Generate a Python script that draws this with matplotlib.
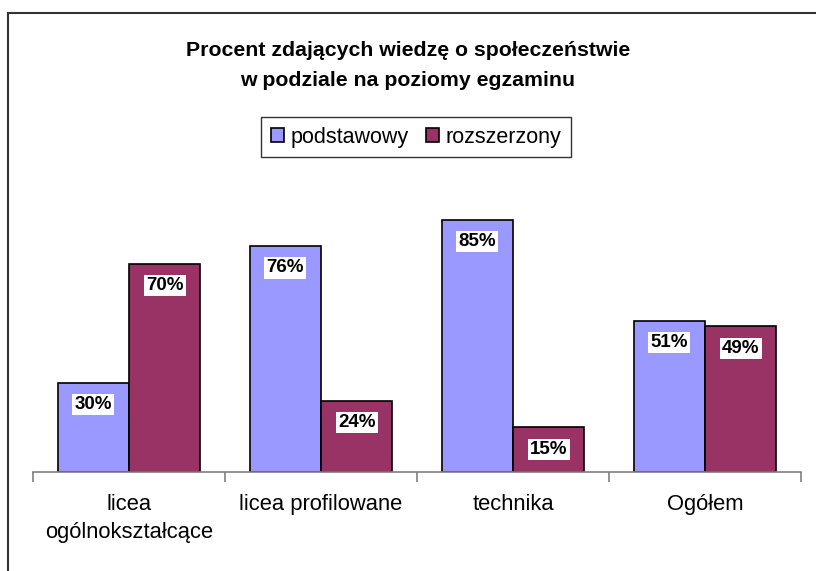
import matplotlib.pyplot as plt
import numpy as np
from matplotlib.patches import Rectangle

categories = ["licea\nogólnokształcące", "licea profilowane", "technika", "Ogółem"]
podstawowy = [30, 76, 85, 51]
rozszerzony = [70, 24, 15, 49]

plt.rcParams["font.family"] = ["Liberation Sans", "DejaVu Sans"]

fig = plt.figure(figsize=(8.16, 5.71), dpi=100)
ax = fig.add_axes([33 / 816, 99 / 571, 768 / 816, 297 / 571])

x = np.arange(len(categories)) + 0.5
w = 0.372
b1 = ax.bar(x - w / 2, podstawowy, w, color="#9999FF", edgecolor="black", linewidth=1.2, label="podstawowy")
b2 = ax.bar(x + w / 2, rozszerzony, w, color="#993366", edgecolor="black", linewidth=1.2, label="rozszerzony")

# etykiety wartości w białych ramkach
for bars, vals in ((b1, podstawowy), (b2, rozszerzony)):
    for bar, v in zip(bars, vals):
        ax.text(bar.get_x() + bar.get_width() / 2, v - 7.3, f"{v}%",
                ha="center", va="center", fontsize=13.5, fontweight="bold",
                bbox=dict(facecolor="white", edgecolor="none", pad=1.5))

ax.set_xlim(0, 4)
ax.set_ylim(0, 100)
for s in ("top", "left", "right"):
    ax.spines[s].set_visible(False)
ax.spines["bottom"].set_color("#808080")
ax.spines["bottom"].set_linewidth(1.2)
ax.set_yticks([])
ax.set_xticks([0, 1, 2, 3, 4])
ax.set_xticklabels([])
ax.tick_params(axis="x", which="major", length=7, color="#808080", width=1.2)
ax.set_xticks(x, minor=True)
ax.set_xticklabels(categories, minor=True, fontsize=15.8, linespacing=1.4)
ax.tick_params(axis="x", which="minor", length=0, pad=16)

# tytuł w dwóch liniach
fig.text(0.5, 1 - 50 / 571, "Procent zdających wiedzę o społeczeństwie",
         ha="center", va="center", fontsize=15.3, fontweight="bold")
fig.text(0.5, 1 - 80 / 571, "w podziale na poziomy egzaminu",
         ha="center", va="center", fontsize=15.3, fontweight="bold")

fig.legend(handles=[b1, b2], loc="center", bbox_to_anchor=(416 / 816, 1 - 137 / 571),
           ncol=2, fontsize=15.5, frameon=True, fancybox=False, edgecolor="black",
           handlelength=0.6, handleheight=0.6, handletextpad=0.3, columnspacing=0.8,
           borderpad=0.45)
leg = fig.legends[0]
leg.get_frame().set_linewidth(1.0)

# ramka wokół wykresu
fig.patches.append(Rectangle((8 / 816, -0.1), 1.1, 1.1 - 13 / 571, transform=fig.transFigure,
                             fill=False, edgecolor="#333333", linewidth=1.5))

fig.savefig("out.png", dpi=100)
